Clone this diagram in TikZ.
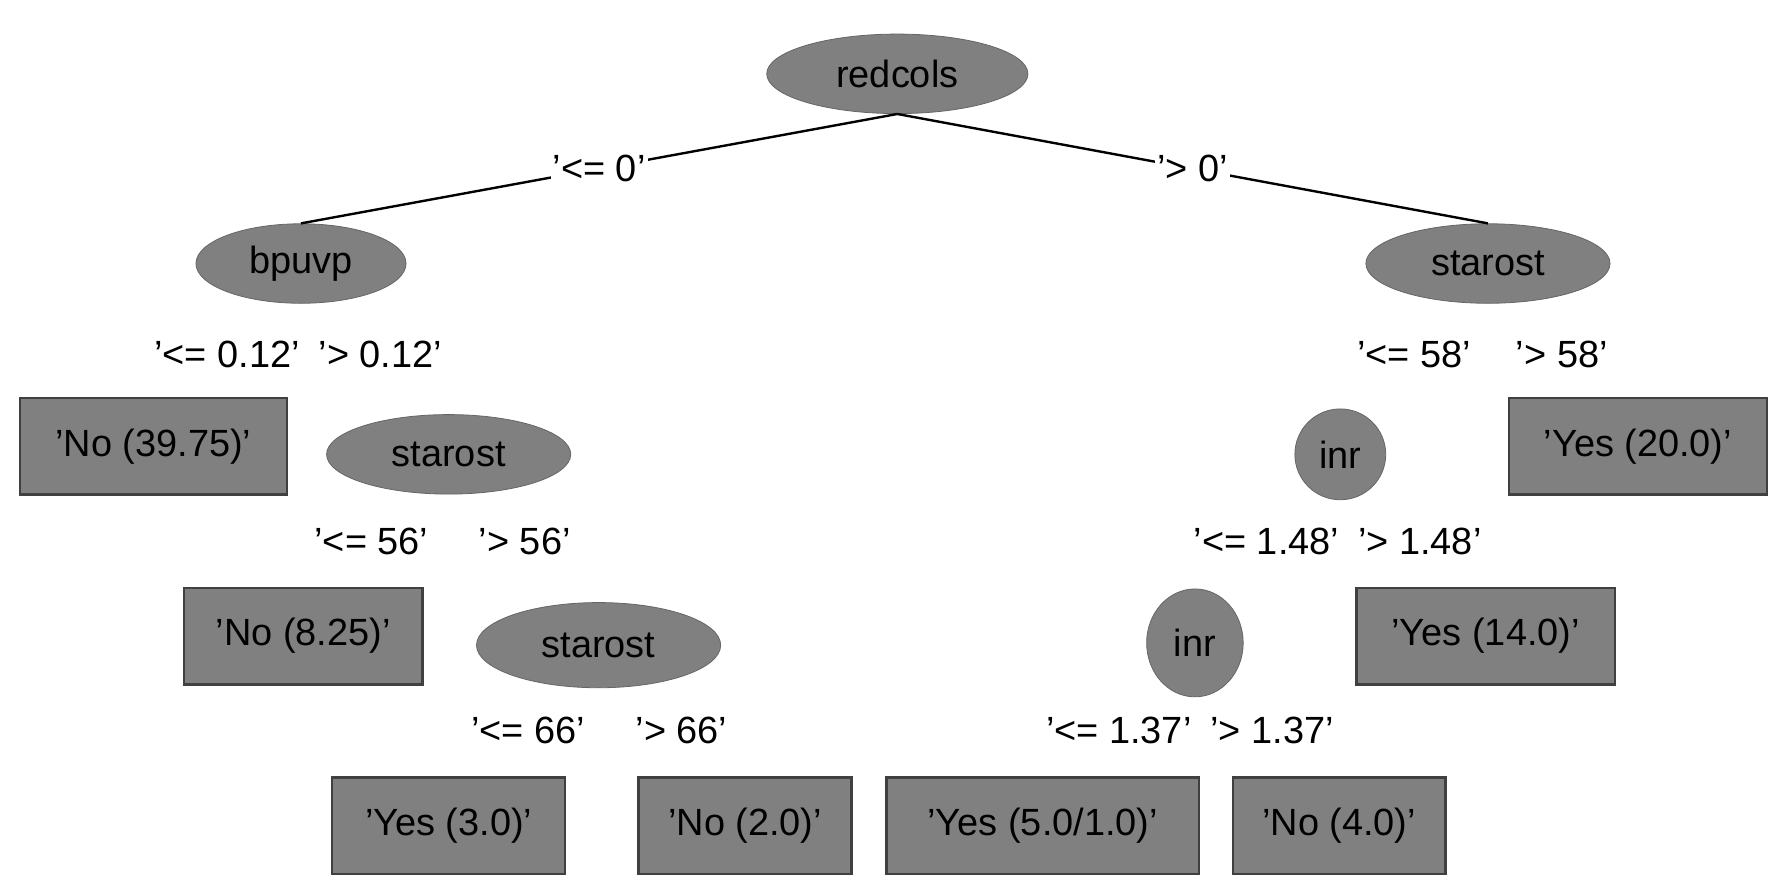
\documentclass[tikz,border=0pt]{standalone}
\usepackage{fontspec}
\setmainfont{Liberation Sans}
\usetikzlibrary{shapes.geometric}
\definecolor{nodegray}{RGB}{128,128,128}
\tikzset{
  x=0.02cm,y=-0.02cm,
  every node/.style={font=\fontsize{19}{22}\selectfont},
  inner/.style={ellipse,fill=nodegray,draw=nodegray!80!black,inner sep=0pt},
  leaf/.style={rectangle,fill=nodegray,draw=black!75,line width=1.2pt,inner sep=0pt,minimum height=1.7cm},
  lab/.style={fill=white,inner sep=1pt},
  edge/.style={draw=black,line width=1.2pt}
}
\begin{document}
\begin{tikzpicture}
\useasboundingbox[fill=white] (0,0) rectangle (1568,785);
\node[inner,minimum width=4.6cm,minimum height=1.4cm] (root) at (790,65) {redcols};
\node[inner,minimum width=3.7cm,minimum height=1.4cm] (bp) at (265,232) {bpuvp};
\node[inner,minimum width=4.3cm,minimum height=1.4cm] (st1) at (1310,232) {starost};
\node[leaf,minimum width=4.7cm] (n1) at (135,393) {'No (39.75)'};
\node[inner,minimum width=4.3cm,minimum height=1.4cm] (st2) at (395,400) {starost};
\node[inner,minimum width=1.6cm,minimum height=1.6cm] (inr1) at (1180,400) {inr};
\node[leaf,minimum width=4.55cm] (y1) at (1442,393) {'Yes (20.0)'};
\node[leaf,minimum width=4.2cm] (n2) at (267,560) {'No (8.25)'};
\node[inner,minimum width=4.3cm,minimum height=1.5cm] (st3) at (527,568) {starost};
\node[inner,minimum width=1.7cm,minimum height=1.9cm] (inr2) at (1052,566) {inr};
\node[leaf,minimum width=4.55cm] (y2) at (1308,560) {'Yes (14.0)'};
\node[leaf,minimum width=4.1cm] (y3) at (395,727) {'Yes (3.0)'};
\node[leaf,minimum width=3.75cm] (n3) at (656,727) {'No (2.0)'};
\node[leaf,minimum width=5.5cm] (y4) at (918,727) {'Yes (5.0/1.0)'};
\node[leaf,minimum width=3.75cm] (n4) at (1179,727) {'No (4.0)'};
\draw[edge] (root.south) -- node[lab,pos=0.5] (l1) {'<= 0'} (bp.north);
\draw[edge] (root.south) -- node[lab,pos=0.5] (l2) {'> 0'} (st1.north);
\node[lab] (l3) at (200,312) {'<= 0.12'};
\node[lab] (l4) at (335,312) {'> 0.12'};
\node[lab] (l5) at (1245,312) {'<= 58'};
\node[lab] (l6) at (1375,312) {'> 58'};
\node[lab] (l7) at (327,477) {'<= 56'};
\node[lab] (l8) at (462,477) {'> 56'};
\node[lab] (l9) at (1115,477) {'<= 1.48'};
\node[lab] (l10) at (1250,477) {'> 1.48'};
\node[lab] (l11) at (465,643) {'<= 66'};
\node[lab] (l12) at (600,643) {'> 66'};
\node[lab] (l13) at (985,643) {'<= 1.37'};
\node[lab] (l14) at (1120,643) {'> 1.37'};
\end{tikzpicture}
\end{document}
